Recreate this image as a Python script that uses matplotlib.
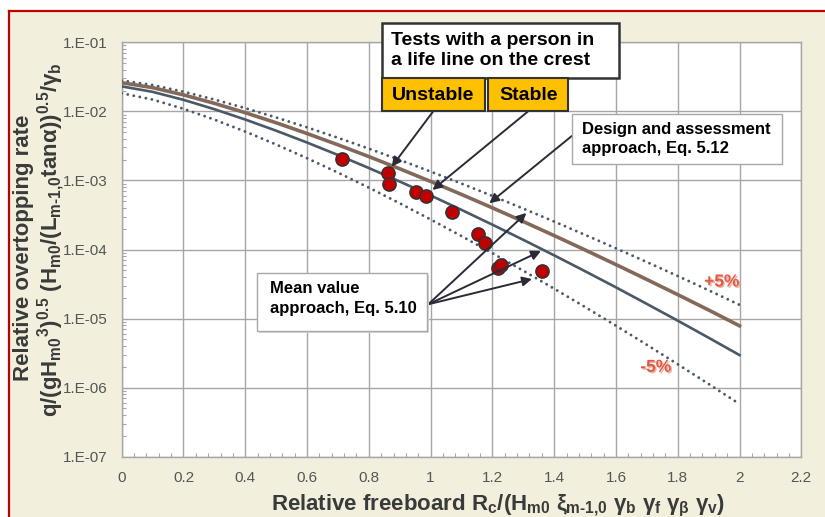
import matplotlib.pyplot as plt
import matplotlib.patheffects as pe
from matplotlib.patches import Rectangle
from matplotlib.lines import Line2D
from matplotlib.ticker import FixedLocator, MultipleLocator, LogLocator, NullFormatter

plt.rcParams['font.family'] = ['Liberation Sans', 'DejaVu Sans']
plt.rcParams['mathtext.fontset'] = 'custom'
plt.rcParams['mathtext.rm'] = 'Liberation Sans:bold'
plt.rcParams['mathtext.it'] = 'Liberation Sans:bold'
plt.rcParams['mathtext.bf'] = 'Liberation Sans:bold'

# curves (relative freeboard vs relative overtopping rate)
x_curve = [0.0, 0.1, 0.2, 0.3, 0.4, 0.5, 0.6, 0.7, 0.8, 0.9, 1.0,
           1.1, 1.2, 1.3, 1.4, 1.5, 1.6, 1.7, 1.8, 1.9, 2.0]
q_mean = [0.023, 0.01917, 0.01468, 0.01075, 0.007616, 0.00525, 0.003537,
          0.002335, 0.001513, 0.000964, 0.000606, 0.000375, 0.0002287,
          0.000138, 8.23e-5, 4.85e-5, 2.83e-5, 1.63e-5, 9.33e-6, 5.28e-6, 2.96e-6]
q_design = [0.026, 0.02205, 0.01732, 0.01307, 0.009565, 0.006833, 0.004779,
            0.003281, 0.002216, 0.001474, 0.000968, 0.000627, 0.000401,
            0.000254, 0.000159, 9.85e-5, 6.05e-5, 3.68e-5, 2.22e-5, 1.33e-5, 7.85e-6]
q_upper = [0.028, 0.02405, 0.01925, 0.01484, 0.01113, 0.00816, 0.005866,
           0.004147, 0.002887, 0.001982, 0.001344, 0.0009, 0.000597,
           0.000391, 0.000254, 0.000163, 0.000104, 6.58e-5, 4.13e-5, 2.57e-5, 1.58e-5]
q_lower = [0.0183, 0.01482, 0.01089, 0.007594, 0.005097, 0.003314, 0.002099,
           0.001298, 0.000786, 0.000467, 0.000272, 0.0001564, 8.84e-5,
           4.93e-5, 2.71e-5, 1.47e-5, 7.88e-6, 4.17e-6, 2.18e-6, 1.13e-6, 5.79e-7]

# tests with a person on the crest
x_tests = [0.713, 0.863, 0.865, 0.952, 0.984, 1.070, 1.154, 1.176, 1.217, 1.228, 1.360]
q_tests = [2.07e-3, 1.29e-3, 8.8e-4, 6.7e-4, 5.95e-4, 3.46e-4, 1.65e-4, 1.23e-4,
           5.35e-5, 5.9e-5, 4.93e-5]

x_ticks = [0, 0.2, 0.4, 0.6, 0.8, 1.0, 1.2, 1.4, 1.6, 1.8, 2.0, 2.2]
x_ticklabels = ['0', '0.2', '0.4', '0.6', '0.8', '1', '1.2', '1.4', '1.6', '1.8', '2', '2.2']
y_ticks = [1e-7, 1e-6, 1e-5, 1e-4, 1e-3, 1e-2, 1e-1]
y_ticklabels = ['1.E-07', '1.E-06', '1.E-05', '1.E-04', '1.E-03', '1.E-02', '1.E-01']

W, H = 825, 517
bg = '#f2f0dc'
txt = '#3a3a3a'
grid_c = '#a6a6a6'


def fx(p):
    return p / W


def fy(p):
    return 1 - p / H


fig = plt.figure(figsize=(W / 100, H / 100), dpi=100)
fig.patch.set_facecolor('white')

# beige panel with red frame (left and top edges)
fig.add_artist(Rectangle((fx(8.5), 0), 1, fy(10.5), transform=fig.transFigure,
                         facecolor=bg, edgecolor='none', zorder=-5))
fig.add_artist(Line2D([fx(8.5), fx(8.5)], [0, fy(10.5)], transform=fig.transFigure,
                      color='#c00000', lw=1.6, zorder=-4))
fig.add_artist(Line2D([fx(8.5), 1], [fy(10.5), fy(10.5)], transform=fig.transFigure,
                      color='#c00000', lw=1.6, zorder=-4))

ax = fig.add_axes([fx(121.7), fy(456.7), fx(801.3) - fx(121.7), fy(42.3) - fy(456.7)])
ax.set_zorder(1)
ax.set_facecolor('white')
ax.set_yscale('log')
ax.set_xlim(0, 2.2)
ax.set_ylim(1e-7, 1e-1)

ax.xaxis.set_major_locator(FixedLocator(x_ticks))
ax.set_xticklabels(x_ticklabels)
ax.xaxis.set_minor_locator(MultipleLocator(0.04))
ax.yaxis.set_major_locator(FixedLocator(y_ticks))
ax.set_yticklabels(y_ticklabels)
ax.yaxis.set_minor_locator(LogLocator(base=10, subs=range(2, 10)))
ax.yaxis.set_minor_formatter(NullFormatter())
ax.tick_params(which='both', direction='in', color=grid_c, labelcolor='#555555',
               labelsize=11, top=False, right=False)
ax.tick_params(which='major', length=0, pad=10)
ax.tick_params(which='minor', length=3, width=0.8)
ax.grid(True, which='major', color=grid_c, lw=1)
for s in ax.spines.values():
    s.set_color(grid_c)
    s.set_linewidth(1)

blue = '#4a5868'
ax.plot(x_curve, q_upper, color=blue, lw=2.1, ls=(0, (0.01, 2.1)), dash_capstyle='round', zorder=3)
ax.plot(x_curve, q_lower, color=blue, lw=2.1, ls=(0, (0.01, 2.1)), dash_capstyle='round', zorder=3)
ax.plot(x_curve, q_design, color='#84695a', lw=2.6, zorder=4)
ax.plot(x_curve, q_mean, color=blue, lw=1.9, zorder=4)
ax.plot(x_tests, q_tests, 'o', ms=9.5, mfc='#c00000', mec='#333333', mew=1.1, zorder=6)

# arrows
arr = dict(arrowstyle='-|>', color='#2b2b38', lw=1.4, mutation_scale=14, shrinkA=0, shrinkB=0)
ax.annotate('', xy=(0.874, 1.58e-3), xytext=(1.008, 9.95e-3), arrowprops=arr, zorder=7)
ax.annotate('', xy=(1.006, 7.28e-4), xytext=(1.314, 9.87e-3), arrowprops=arr, zorder=7)
ax.annotate('', xy=(1.190, 4.67e-4), xytext=(1.457, 4.40e-3), arrowprops=arr, zorder=7)
for tx, ty in [(1.310, 3.38e-4), (1.357, 9.5e-5), (1.328, 3.74e-5)]:
    ax.annotate('', xy=(tx, ty), xytext=(0.9925, 1.61e-5), arrowprops=arr, zorder=7)

# +/-5% labels
shadow = [pe.withSimplePatchShadow(offset=(1, -1), shadow_rgbFace='#e8a090', alpha=0.8)]
ax.text(1.943, 3.39e-5, '+5%', color='#e05a44', fontsize=12.5, fontweight='bold',
        ha='center', va='center', zorder=7, path_effects=shadow)
ax.text(1.729, 1.97e-6, '-5%', color='#e05a44', fontsize=12.5, fontweight='bold',
        ha='center', va='center', zorder=7, path_effects=shadow)


def box(x0, y0, x1, y1, fc, ec, lw, z=8):
    r = Rectangle((fx(x0), fy(y1)), fx(x1) - fx(x0), fy(y0) - fy(y1),
                  transform=fig.transFigure, facecolor=fc, edgecolor=ec, lw=lw, zorder=z)
    fig.add_artist(r)


box(381.7, 22.7, 619.3, 78.3, 'white', '#333333', 1.8)
fig.text(fx(391), fy(50.5), 'Tests with a person in\na life line on the crest',
         fontsize=14, fontweight='bold', color='black', ha='left', va='center',
         linespacing=1.3, zorder=9)
box(381.7, 78.3, 485, 110.7, '#ffc000', '#333333', 1.5)
fig.text(fx(433.3), fy(95), 'Unstable', fontsize=14, fontweight='bold', color='black',
         ha='center', va='center', zorder=9)
box(488.3, 78.3, 568.3, 110.7, '#ffc000', '#333333', 1.5)
fig.text(fx(528.3), fy(95), 'Stable', fontsize=14, fontweight='bold', color='black',
         ha='center', va='center', zorder=9)

box(571.7, 114.3, 782.3, 164.3, 'white', '#a8a8a8', 1.0)
fig.text(fx(581.5), fy(139), 'Design and assessment\napproach, Eq. 5.12', fontsize=12,
         fontweight='bold', color='black', ha='left', va='center', linespacing=1.4, zorder=9)

box(258.5, 274.5, 428.5, 333, '#d8d8d0', 'none', 0, z=7.5)
box(256.7, 272.7, 426.7, 331, 'white', '#a8a8a8', 1.0)
fig.text(fx(270), fy(298.5), 'Mean value\napproach, Eq. 5.10', fontsize=12,
         fontweight='bold', color='black', ha='left', va='center', linespacing=1.4, zorder=9)

# axis titles
fig.text(fx(24), fy(248), 'Relative overtopping rate', rotation=90, fontsize=16,
         fontweight='bold', color=txt, ha='center', va='center')
fig.text(fx(51), fy(240),
         r'$q/(gH_{m0}{}^{3})^{0.5}\ (H_{m0}/(L_{\text{m-1,0}}tan\alpha))^{0.5}/\gamma_b$',
         rotation=90, fontsize=16, color=txt, ha='center', va='center')
fig.text(fx(497.5), fy(510),
         r'Relative freeboard R$_c$/(H$_{m0}$ $\xi_{\text{m-1,0}}$ $\gamma_b$ $\gamma_f$ $\gamma_\beta$ $\gamma_v$)',
         fontsize=16, fontweight='bold', color=txt, ha='center', va='baseline')

fig.savefig('out.png', dpi=100, facecolor=fig.get_facecolor())
